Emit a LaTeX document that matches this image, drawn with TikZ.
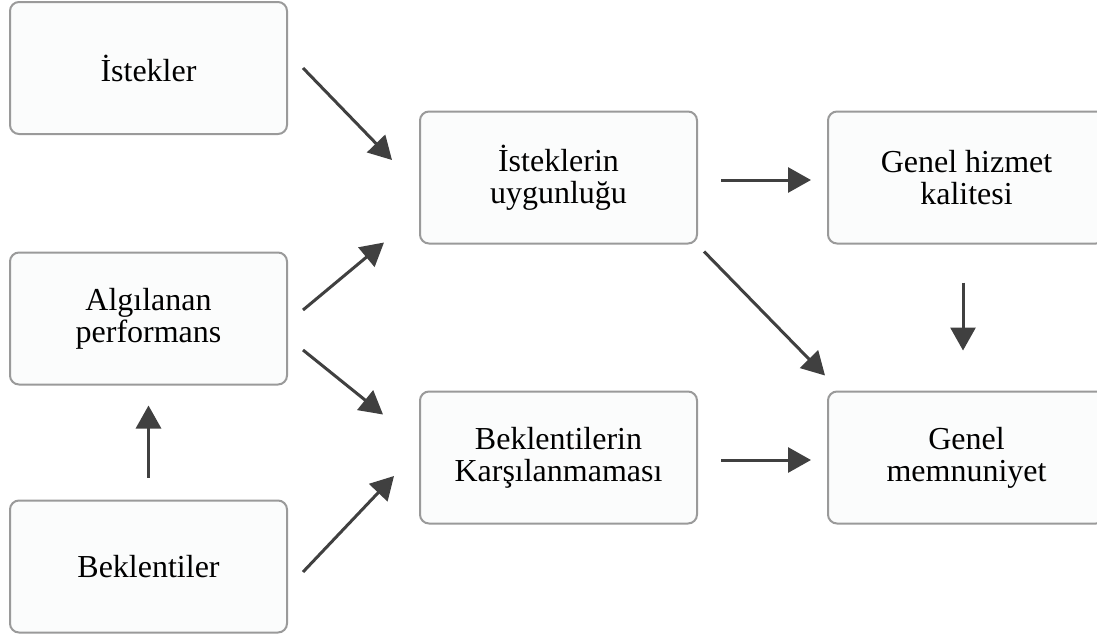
\documentclass[tikz,border=0pt]{standalone}
\usepackage{fontspec}
\setmainfont{Liberation Serif}
\usetikzlibrary{arrows.meta,calc}
\definecolor{boxline}{HTML}{9A9A9A}
\definecolor{boxfill}{HTML}{FBFCFC}
\definecolor{arrowgray}{HTML}{404040}
\tikzset{
  box/.style={draw=boxline, fill=boxfill, line width=1pt, rounded corners=4.5pt,
    minimum width=138.5pt, minimum height=66pt, align=center, inner sep=0pt,
    font=\fontsize{16pt}{16pt}\selectfont},
  link/.style={arrowgray, line width=1.5pt, -{Triangle[length=11.5pt,width=12.5pt]}}
}
\begin{document}
\begin{tikzpicture}[x=0.5pt, y=-0.5pt]
  \useasboundingbox (0,0) rectangle (1097,637);
  \node [box] (ist) at (148.5,68) {İstekler};
  \node [box] (alg) at (148.5,318.5) {Algılanan\\performans};
  \node [box] (bek) at (148.5,566.5) {Beklentiler};
  \node [box] (istu) at (558.5,177.5) {İsteklerin\\uygunluğu};
  \node [box] (bekk) at (558.5,457.5) {Beklentilerin\\Karşılanmaması};
  \node [box] (ghk) at (966.5,177.5) {Genel hizmet\\kalitesi};
  \node [box] (gm) at (966.5,457.5) {Genel\\memnuniyet};
  \draw [link] ($(ist.east)+(15,0)$) -- ($(istu.west)+(-27,-17.5)$);
  \draw [link] ($(alg.east)+(15,-8.5)$) -- ($(istu.south west)+(-35,-2)$);
  \draw [link] ($(alg.east)+(15,31.5)$) -- ($(bekk.north west)+(-36,24)$);
  \draw [link] ($(bek.east)+(15,5.5)$) -- ($(bekk.west)+(-25,18.5)$);
  \draw [link] ($(bek.north)+(0,-22)$) -- ($(alg.south)+(0,20)$);
  \draw [link] ($(istu.east)+(23,2.5)$) -- ($(ghk.west)+(-16,2.5)$);
  \draw [link] ($(ghk.south)+(-3.5,38)$) -- ($(gm.north)+(-3.5,-40)$);
  \draw [link] ($(istu.south east)+(6,7)$) -- ($(gm.north west)+(-2,-15)$);
  \draw [link] ($(bekk.east)+(23,2.5)$) -- ($(gm.west)+(-16,2.5)$);
\end{tikzpicture}
\end{document}
